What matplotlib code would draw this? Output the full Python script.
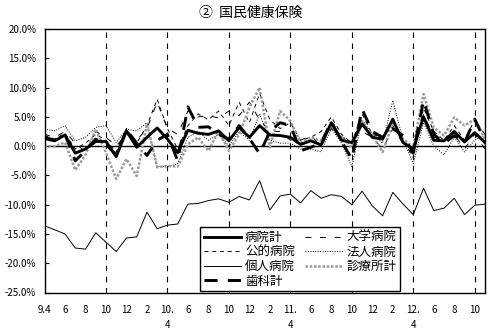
import numpy as np
import matplotlib
matplotlib.use("Agg")
import matplotlib.pyplot as plt

plt.rcParams['font.family'] = ['Noto Sans CJK JP', 'DejaVu Sans']
plt.rcParams['axes.unicode_minus'] = False

# 月次データ（平成9年4月～平成12年11月）
tick_labels = ["9.4", "6", "8", "10", "12", "2", "10.\n4", "6", "8", "10", "12", "2",
               "11.\n4", "6", "8", "10", "12", "2", "12.\n4", "6", "8", "10"]

byoin = [1.3, 0.9, 1.9, -1.2, -0.5, 0.8, 0.8, -1.8, 2.6, -0.2, 1.5, 3.1, 1.2, -1.1, 2.7,
         2.2, 2.0, 2.6, 0.9, 3.2, 1.5, 3.5, 1.9, 1.8, 1.5, 0.3, 0.9, 0.2, 4.0, 1.0, 0.6,
         3.8, 1.5, 1.2, 4.6, 0.6, -0.5, 5.0, 1.0, 0.9, 2.5, 0.7, 2.3, 0.6]
daigaku = [2.0, 1.5, 2.5, 0.5, -1.0, 2.5, 1.5, 0.0, 2.0, 1.0, 3.0, 7.5, 3.0, 2.0, 6.0,
           5.0, 5.2, 4.8, 6.0, 5.2, 7.5, 4.5, 2.5, 2.5, 1.0, 1.0, 1.8, 0.0, 3.0, 1.5, 1.0,
           2.5, 1.5, -0.5, 3.0, 0.5, -1.5, 5.5, 1.5, 1.0, 2.0, -0.5, 2.0, -0.5]
koteki = [1.8, 1.2, 2.2, -0.5, 0.5, 2.0, 1.0, -1.0, 3.0, 0.5, 3.5, 8.0, 3.0, -0.5, 3.5,
          5.5, 4.5, 6.0, 3.5, 7.5, 4.0, 9.0, 4.5, 3.0, 4.0, 1.0, 1.5, 2.5, 5.0, 2.0, 0.5,
          5.5, 2.0, 1.5, 3.5, 1.0, -2.0, 6.5, 2.5, 1.0, 3.5, 1.0, 4.5, 2.0]
hojin = [2.9, 2.6, 3.5, 0.9, 1.5, 3.2, 3.5, 0.6, 2.9, 2.6, 4.0, -3.5, -3.5, -3.0, 1.5,
         2.5, 1.0, 2.0, 0.0, 2.5, 1.0, 5.5, 1.0, 0.5, 0.5, -0.5, -0.5, -1.0, 3.0, 0.5,
         -3.5, 4.5, 2.0, 0.5, 7.8, 1.0, -3.0, 4.0, 0.0, -1.5, 1.5, -1.0, 1.0, 2.0]
kojin = [-13.6, -14.3, -15.0, -17.4, -17.6, -14.8, -16.4, -18.0, -15.7, -15.5, -11.3,
         -14.1, -13.5, -13.3, -9.9, -9.8, -9.3, -9.0, -9.6, -8.6, -9.2, -5.9, -10.9, -8.5,
         -8.2, -9.7, -7.6, -8.9, -8.3, -8.6, -10.0, -7.7, -10.2, -11.9, -7.9, -9.9, -11.7,
         -7.2, -11.0, -10.6, -8.9, -11.7, -10.1, -9.9]
shinryojo = [0.0, 0.0, 0.6, -4.1, -1.5, 2.9, -1.1, -5.6, -2.2, -5.1, 3.8, -3.6, -3.4,
             -3.5, 0.3, 1.5, -0.8, 2.6, -0.8, 2.0, 6.6, 10.0, -0.2, 6.0, 4.3, 0.6, 1.5,
             0.9, 3.5, 1.5, -0.2, 4.3, 1.8, -1.0, 3.8, 1.2, -0.2, 8.9, 3.2, 1.8, 4.9, 3.5,
             4.6, 1.2]
shika = [1.5, 1.0, 2.0, -2.5, -0.8, 1.2, 0.3, -1.5, 2.8, 0.5, -1.6, 1.0, 2.0, -2.5, 6.7,
         3.2, 3.3, 2.0, 1.2, 3.5, 1.3, -1.3, 2.5, 4.0, 3.5, -0.8, -0.2, 0.5, 4.2, 0.8,
         -2.2, 6.3, 2.5, 1.5, 3.0, 1.8, -1.2, 7.8, 2.0, 0.5, 1.8, 0.6, 4.6, 0.8]

x = np.arange(len(byoin))

fig = plt.figure(figsize=(4.91, 3.32), dpi=100)
ax = fig.add_axes([44.5 / 491, 39.5 / 332, 440.5 / 491, 263.5 / 332])

# 縦の破線（6か月ごと）とゼロ線
for v in range(6, 43, 6):
    ax.axvline(v, color='black', lw=0.8, ls=(0, (5, 5)), zorder=1)
ax.axhline(0, color='black', lw=1.0, zorder=1)

l_kojin, = ax.plot(x, kojin, color='black', lw=0.7, label='個人病院')
l_hojin, = ax.plot(x, hojin, color='black', lw=0.7, ls=(0, (1, 1.5)), label='法人病院')
l_koteki, = ax.plot(x, koteki, color='black', lw=0.7, ls=(0, (4, 4)), label='公的病院')
l_daigaku, = ax.plot(x, daigaku, color='black', lw=0.7, ls=(0, (6, 9)), label='大学病院')
l_shin, = ax.plot(x, shinryojo, color='#9a9a9a', lw=1.8, ls=(0, (1, 0.7)), label='診療所計')
l_shika, = ax.plot(x, shika, color='black', lw=2.1, ls=(0, (4.5, 3.5)), label='歯科計')
l_byoin, = ax.plot(x, byoin, color='black', lw=2.1, label='病院計')

ax.set_xlim(0, 43)
ax.set_ylim(-25, 20)
ax.set_yticks(np.arange(-25, 21, 5))
ax.set_yticklabels(["%.1f%%" % v for v in np.arange(-25, 21, 5)], fontsize=7)
ax.set_xticks(np.arange(0, 43, 2))
ax.set_xticklabels(tick_labels, fontsize=7, linespacing=1.6)
ax.tick_params(axis='y', direction='in', length=3, width=0.8, pad=6)
ax.tick_params(axis='x', length=0, pad=9)
for s in ax.spines.values():
    s.set_linewidth(1.0)

handles = [l_byoin, l_koteki, l_kojin, l_shika, l_daigaku, l_hojin, l_shin]
leg = ax.legend(handles=handles, labels=[h.get_label() for h in handles],
                loc='lower center', bbox_to_anchor=(255.5 / 440.5, 0.004), ncol=2,
                fontsize=9, handlelength=3.0, handletextpad=0.3, columnspacing=0.8,
                labelspacing=0.12, borderpad=0.3, borderaxespad=0,
                fancybox=False, framealpha=1, edgecolor='black')
leg.get_frame().set_linewidth(1.0)

fig.text(251 / 491, 1 - 13 / 332, '②  国民健康保険', ha='center', va='center', fontsize=10)

plt.savefig('out.png', dpi=100)
